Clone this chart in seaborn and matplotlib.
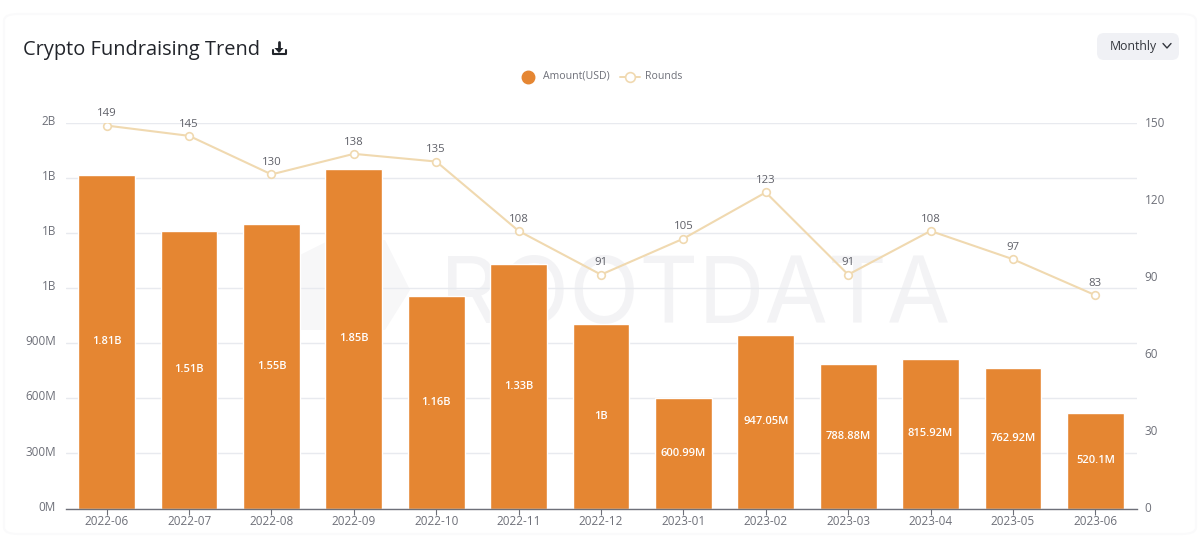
import matplotlib
matplotlib.use("Agg")
import matplotlib.pyplot as plt
import pandas as pd
import seaborn as sns
from matplotlib.lines import Line2D
from matplotlib.patches import FancyBboxPatch, Polygon
from matplotlib.transforms import ScaledTranslation

months = ["2022-06", "2022-07", "2022-08", "2022-09", "2022-10", "2022-11", "2022-12",
          "2023-01", "2023-02", "2023-03", "2023-04", "2023-05", "2023-06"]
amount_m = [1815, 1510, 1550, 1850, 1160, 1330, 1005, 600.99, 947.05, 788.88, 815.92, 762.92, 520.1]
amount_labels = ["1.81B", "1.51B", "1.55B", "1.85B", "1.16B", "1.33B", "1B",
                 "600.99M", "947.05M", "788.88M", "815.92M", "762.92M", "520.1M"]
rounds = [149, 145, 130, 138, 135, 108, 91, 105, 123, 91, 108, 97, 83]
left_ticks = [0, 300, 600, 900, 1200, 1500, 1800, 2100]
left_labels = ["0M", "300M", "600M", "900M", "1B", "1B", "1B", "2B"]
right_ticks = [0, 30, 60, 90, 120, 150]

ORANGE = "#e58632"
LINE = "#f0d9b0"
GRID = "#e8eaef"
GREY = "#6e7079"
W, H = 1200, 538

sns.set_style("white")
plt.rcParams["font.family"] = ["Open Sans", "DejaVu Sans"]

df = pd.DataFrame({"month": months, "amount": amount_m, "rounds": rounds})

fig = plt.figure(figsize=(12, 5.38), dpi=100, facecolor="white")


# pixel helper, y measured from the top of the picture
def fx(px):
    return px / W


def fy(py):
    return 1 - py / H


# faint card outline
fig.add_artist(FancyBboxPatch((fx(4), fy(534)), fx(1192), 520 / H,
                              boxstyle="round,pad=0,rounding_size=0.012", transform=fig.transFigure,
                              facecolor="white", edgecolor="#fafafb", linewidth=1.5, zorder=-5))

ax = fig.add_axes([fx(65.5), fy(508.5), fx(1071), 385.5 / H])
ax.patch.set_alpha(0)

# watermark sits behind everything
fig.text(fx(695), fy(299), "ROOTDATA", fontsize=66, color="#f3f3f5", ha="center", va="center",
         family="Inter", zorder=-1)
fig.add_artist(Polygon([(fx(300), fy(330)), (fx(300), fy(255)), (fx(330), fy(240)), (fx(385), fy(240)),
                        (fx(410), fy(290)), (fx(385), fy(330))], closed=True, transform=fig.transFigure,
                       facecolor="#f7f7f8", edgecolor="none", zorder=-1))

sns.barplot(data=df, x="month", y="amount", color=ORANGE, saturation=1, width=0.69, ax=ax, zorder=2)
ax.set_ylim(0, 2100)
ax.set_xlim(-0.5, 12.5)
ax.set_yticks(left_ticks)
ax.set_yticklabels(left_labels, va="center")
ax.set_xlabel("")
ax.set_ylabel("")
ax.grid(axis="y", color=GRID, linewidth=1, zorder=0)
ax.set_axisbelow(True)
ax.tick_params(axis="y", length=0, labelsize=8.5, labelcolor=GREY, pad=7)
ax.tick_params(axis="x", length=4, width=0.8, color=GREY, labelsize=8.5, labelcolor=GREY, pad=1, bottom=True)
for side in ["top", "left", "right"]:
    ax.spines[side].set_visible(False)
ax.spines["bottom"].set_color(GREY)
ax.spines["bottom"].set_linewidth(1)
# labels sit slightly above their grid lines in the reference
nudge = ScaledTranslation(0, 1 / 72, fig.dpi_scale_trans)
for t in ax.get_yticklabels():
    t.set_transform(t.get_transform() + nudge)

for i, lab in enumerate(amount_labels):
    ax.text(i, amount_m[i] / 2, lab, color="white", fontsize=8, fontweight="semibold",
            ha="center", va="center", zorder=3)

ax2 = ax.twinx()
ax2.patch.set_alpha(0)
sns.lineplot(data=df, x="month", y="rounds", sort=False, color=LINE, linewidth=1.5, marker="o",
             markersize=5.5, markerfacecolor="white", markeredgecolor=LINE, markeredgewidth=1.2,
             ax=ax2, zorder=4)
ax2.set_ylim(0, 150)
ax2.set_yticks(right_ticks)
ax2.set_ylabel("")
ax2.tick_params(axis="y", length=0, labelsize=8.5, labelcolor=GREY, pad=6)
for side in ["top", "left", "right", "bottom"]:
    ax2.spines[side].set_visible(False)
for t in ax2.get_yticklabels():
    t.set_transform(t.get_transform() + nudge)
for i, r in enumerate(rounds):
    ax2.annotate(str(r), (i, r), xytext=(0, 4.5), textcoords="offset points", ha="center", va="bottom",
                 fontsize=8.2, color="#5f6068")

# header
fig.text(fx(23), fy(49.5), "Crypto Fundraising Trend", fontsize=14.4, color="#22252b", fontweight="medium",
         ha="left", va="center")

# download icon
icon = "#22252b"
fig.add_artist(Line2D([fx(279), fx(279)], [fy(42), fy(50)], color=icon, linewidth=2, transform=fig.transFigure))
fig.add_artist(Polygon([(fx(274.5), fy(48)), (fx(283.5), fy(48)), (fx(279), fy(53))], closed=True,
                       transform=fig.transFigure, facecolor=icon, edgecolor="none"))
fig.add_artist(Line2D([fx(272.5), fx(272.5), fx(285.5), fx(285.5)], [fy(50), fy(54), fy(54), fy(50)],
                      color=icon, linewidth=1.5, transform=fig.transFigure))

# period selector
fig.add_artist(FancyBboxPatch((fx(1097), fy(60)), fx(82), 27 / H,
                              boxstyle="round,pad=0,rounding_size=0.006", transform=fig.transFigure,
                              facecolor="#f0f1f5", edgecolor="none", mutation_aspect=2.2))
fig.text(fx(1133), fy(46.5), "Monthly", fontsize=8.8, color="#33363d", fontweight="medium", ha="center", va="center")
fig.add_artist(Line2D([fx(1163), fx(1167), fx(1171)], [fy(43.5), fy(48), fy(43.5)], color="#33363d", linewidth=1,
                      transform=fig.transFigure))

# legend
fig.add_artist(Line2D([fx(528)], [fy(77)], marker="o", markersize=9, color=ORANGE, linestyle="none",
                      transform=fig.transFigure))
fig.text(fx(543), fy(76.5), "Amount(USD)", fontsize=7.6, color=GREY, ha="left", va="center")
fig.add_artist(Line2D([fx(620), fx(640)], [fy(77), fy(77)], color=LINE, linewidth=1.4, transform=fig.transFigure))
fig.add_artist(Line2D([fx(630)], [fy(77)], marker="o", markersize=7, markerfacecolor="white", markeredgecolor=LINE,
                      markeredgewidth=1.2, linestyle="none", transform=fig.transFigure))
fig.text(fx(645), fy(76.5), "Rounds", fontsize=7.6, color=GREY, ha="left", va="center")

fig.savefig("out.png", dpi=100)
